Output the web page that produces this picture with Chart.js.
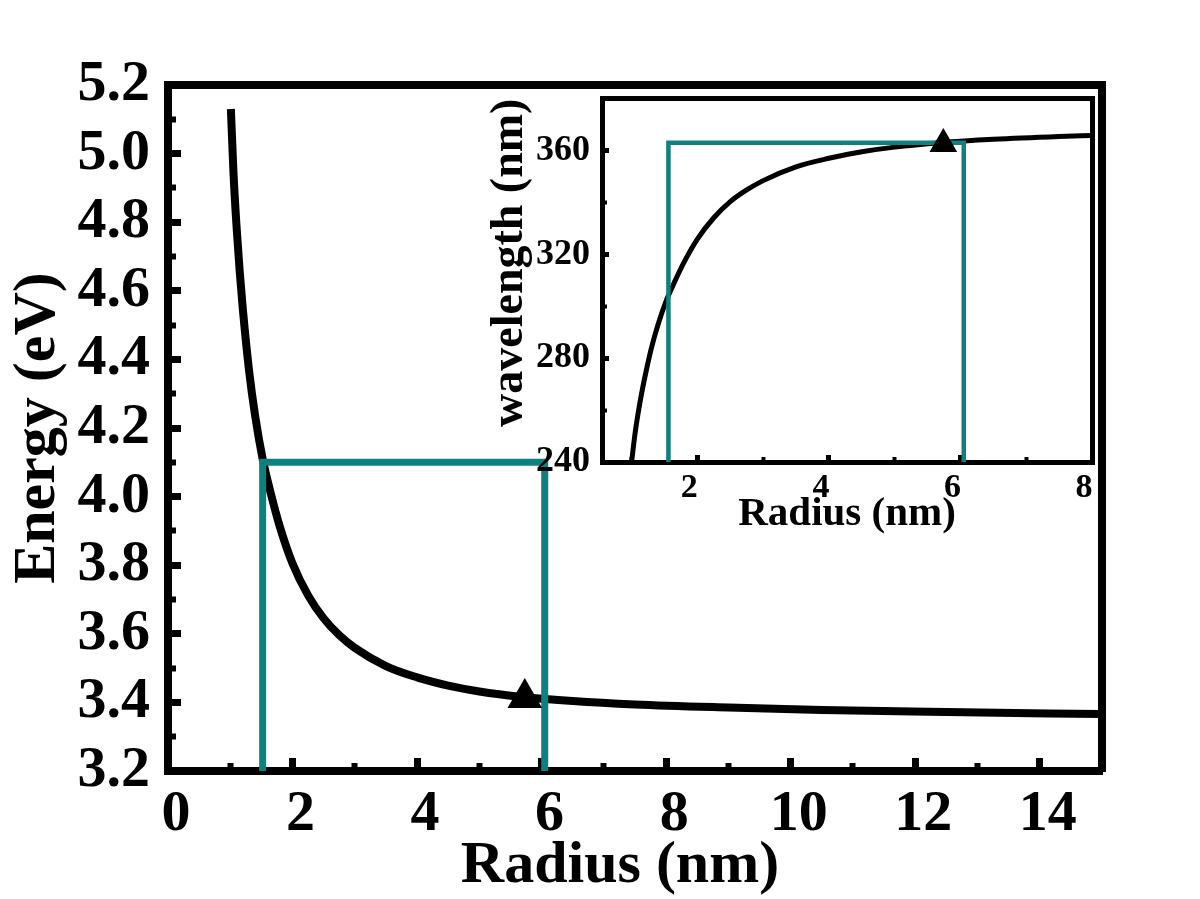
<!DOCTYPE html>
<html><head><meta charset="utf-8">
<script src="https://cdn.jsdelivr.net/npm/chart.js@4.4.1/dist/chart.umd.min.js"></script>
<style>
html,body{margin:0;padding:0;background:#fff;}
#wrap{position:relative;width:1200px;height:899px;overflow:hidden;}
#main{position:absolute;left:0;top:0;}
#inset{position:absolute;left:480px;top:58px;}
</style></head><body>
<div id="wrap"><canvas id="main" width="1200" height="899"></canvas><canvas id="inset" width="640" height="482"></canvas></div>
<script>
// ---- main chart data: Energy vs Radius ----
const radius = [1.01,1.05,1.10,1.15,1.20,1.30,1.40,1.52,1.65,1.80,2.00,2.25,2.50,2.75,3.00,3.50,4.00,4.50,5.00,5.70,6.50,7.50,9.00,10.5,12.5,15.0];
const energy = [5.13,4.95,4.79,4.66,4.55,4.37,4.235,4.11,4.01,3.91,3.805,3.712,3.645,3.596,3.559,3.506,3.473,3.449,3.432,3.416,3.404,3.394,3.385,3.378,3.372,3.366];
const markerRadius = [5.73];
const markerEnergy = [3.413];
const guideRadius = [1.52,1.52,6.05,6.05];
const guideEnergy = [3.2,4.1,4.1,3.2];
const xMajorTicks = [0,2,4,6,8,10,12,14];
const xMinorTicks = [1,3,5,7,9,11,13];
const yMajorTicks = [3.2,3.4,3.6,3.8,4.0,4.2,4.4,4.6,4.8,5.0,5.2];
const yMinorTicks = [3.3,3.5,3.7,3.9,4.1,4.3,4.5,4.7,4.9,5.1];

// ---- inset data: wavelength vs Radius ----
const insetRadius = [1.00,1.05,1.10,1.15,1.20,1.30,1.40,1.52,1.65,1.80,2.00,2.25,2.50,2.75,3.00,3.50,4.00,4.50,5.00,5.70,6.50,7.50,8.00];
const insetWavelength = [240,250.5,258.9,266.1,272.5,283.8,292.8,301.7,309.2,317.1,325.9,334.1,340.3,344.8,348.4,353.7,357.0,359.5,361.3,363.0,364.3,365.4,365.8];
const insetMarkerRadius = [5.74];
const insetMarkerWavelength = [362.5];
const insetGuideRadius = [1.56,1.56,6.05,6.05];
const insetGuideWavelength = [240,363,363,240];
const insetXMajorTicks = [2,4,6,8];
const insetXMinorTicks = [1,3,5,7];
const insetYMajorTicks = [240,280,320,360];
const insetYMinorTicks = [260,300,340];

const FONT = "'Liberation Serif','Times New Roman',serif";
const TEAL = '#0e8080';
const pts = (xs, ys) => xs.map((x, i) => ({x: x, y: ys[i]}));
const setTicks = arr => (s => { s.ticks = arr.map(v => ({value: v})); });

function frameAxis(pos, min, max, width) {
  return {
    type: 'linear', position: pos, min: min, max: max, weight: 0,
    afterFit: s => { if (pos === 'top') s.height = 0; else s.width = 0; },
    grid: {drawOnChartArea: false, drawTicks: false},
    border: {display: true, width: width, color: '#000'},
    ticks: {display: false}
  };
}
function minorAxis(pos, min, max, arr, tl, tw) {
  return {
    type: 'linear', position: pos, min: min, max: max, weight: 0,
    afterBuildTicks: setTicks(arr),
    afterFit: s => { if (pos === 'bottom') s.height = 0; else s.width = 0; },
    grid: {drawOnChartArea: false, drawTicks: true, tickLength: tl, tickWidth: tw, tickColor: '#000'},
    border: {display: false},
    ticks: {display: false}
  };
}

new Chart(document.getElementById('main'), {
  type: 'scatter',
  data: {datasets: [
    {label: 'marker', data: pts(markerRadius, markerEnergy), pointStyle: 'triangle', pointRadius: 20,
     backgroundColor: '#000', borderColor: '#000', borderWidth: 0, showLine: false},
    {label: 'guide', data: pts(guideRadius, guideEnergy), showLine: true, borderColor: TEAL, borderWidth: 7,
     pointRadius: 0, tension: 0, borderJoinStyle: 'miter'},
    {label: 'energy', data: pts(radius, energy), showLine: true, borderColor: '#000', borderWidth: 8,
     pointRadius: 0, cubicInterpolationMode: 'monotone'}
  ]},
  options: {
    responsive: false, animation: false, devicePixelRatio: 1,
    layout: {padding: {top: 85, right: 98, left: 0, bottom: 0}},
    plugins: {legend: {display: false}, tooltip: {enabled: false}},
    scales: {
      x: {
        type: 'linear', position: 'bottom', min: 0, max: 15, weight: 1,
        afterBuildTicks: setTicks(xMajorTicks),
        afterFit: s => { s.height = 128; },
        grid: {drawOnChartArea: false, drawTicks: true, tickLength: -13, tickWidth: 7, tickColor: '#000'},
        border: {display: true, width: 8, color: '#000'},
        ticks: {font: {family: FONT, size: 58, weight: 'bold'}, color: '#000', padding: 22, labelOffset: 8,
                maxRotation: 0, autoSkip: false, callback: v => String(v)},
        title: {display: true, text: 'Radius (nm)\u00a0\u00a0', color: '#000',
                font: {family: FONT, size: 60, weight: 'bold', lineHeight: 1.0},
                padding: {top: 0, bottom: 3}}
      },
      xMinor: minorAxis('bottom', 0, 15, xMinorTicks, -8, 6),
      xTop: frameAxis('top', 0, 15, 8),
      y: {
        type: 'linear', position: 'left', min: 3.2, max: 5.2, weight: 1,
        afterBuildTicks: setTicks(yMajorTicks),
        afterFit: s => { s.width = 168; },
        grid: {drawOnChartArea: false, drawTicks: true, tickLength: -13, tickWidth: 7, tickColor: '#000'},
        border: {display: true, width: 8, color: '#000'},
        ticks: {font: {family: FONT, size: 58, weight: 'bold'}, color: '#000', padding: 31,
                autoSkip: false, callback: v => v.toFixed(1)},
        title: {display: true, text: 'Energy (eV)', color: '#000', font: {family: FONT, size: 60, weight: 'bold'},
                padding: {top: 2, bottom: 0}}
      },
      yMinor: minorAxis('left', 3.2, 5.2, yMinorTicks, -8, 6),
      yRight: frameAxis('right', 3.2, 5.2, 8)
    }
  }
});

new Chart(document.getElementById('inset'), {
  type: 'scatter',
  data: {datasets: [
    {label: 'marker', data: pts(insetMarkerRadius, insetMarkerWavelength), pointStyle: 'triangle', pointRadius: 16,
     backgroundColor: '#000', borderColor: '#000', borderWidth: 0, showLine: false},
    {label: 'guide', data: pts(insetGuideRadius, insetGuideWavelength), showLine: true, borderColor: TEAL, borderWidth: 4.5,
     pointRadius: 0, tension: 0, borderJoinStyle: 'miter'},
    {label: 'wavelength', data: pts(insetRadius, insetWavelength), showLine: true, borderColor: '#000', borderWidth: 5,
     pointRadius: 0, cubicInterpolationMode: 'monotone'}
  ]},
  options: {
    responsive: false, animation: false, devicePixelRatio: 1,
    layout: {padding: {top: 40, right: 28, left: 0, bottom: 0}},
    plugins: {legend: {display: false}, tooltip: {enabled: false}},
    scales: {
      x: {
        type: 'linear', position: 'bottom', min: 0.55, max: 8, weight: 1,
        afterBuildTicks: setTicks(insetXMajorTicks),
        afterFit: s => { s.height = 78; },
        grid: {drawOnChartArea: false, drawTicks: true, tickLength: -7, tickWidth: 5, tickColor: '#000'},
        border: {display: true, width: 5, color: '#000'},
        ticks: {font: {family: FONT, size: 34, weight: 'bold'}, color: '#000', padding: 13, labelOffset: -8,
                maxRotation: 0, autoSkip: false, callback: v => String(v)},
        title: {display: true, text: 'Radius (nm)', color: '#000', font: {family: FONT, size: 41, weight: 'bold'},
                padding: {top: 0, bottom: 1}}
      },
      xMinor: minorAxis('bottom', 0.55, 8, insetXMinorTicks, -5, 4),
      xTop: frameAxis('top', 0.55, 8, 5),
      y: {
        type: 'linear', position: 'left', min: 240, max: 380, weight: 1,
        afterBuildTicks: setTicks(insetYMajorTicks),
        afterFit: s => { s.width = 122; },
        grid: {drawOnChartArea: false, drawTicks: true, tickLength: -7, tickWidth: 5, tickColor: '#000'},
        border: {display: true, width: 5, color: '#000'},
        ticks: {font: {family: FONT, size: 36, weight: 'bold'}, color: '#000', padding: 19,
                autoSkip: false, callback: v => String(v)},
        title: {display: true, text: 'wavelength (nm)', color: '#000', align: 'end',
                font: {family: FONT, size: 46, weight: 'bold'},
                padding: {top: 3, bottom: 0}}
      },
      yMinor: minorAxis('left', 240, 380, insetYMinorTicks, -5, 4),
      yRight: frameAxis('right', 240, 380, 5)
    }
  }
});
</script>
</body></html>
